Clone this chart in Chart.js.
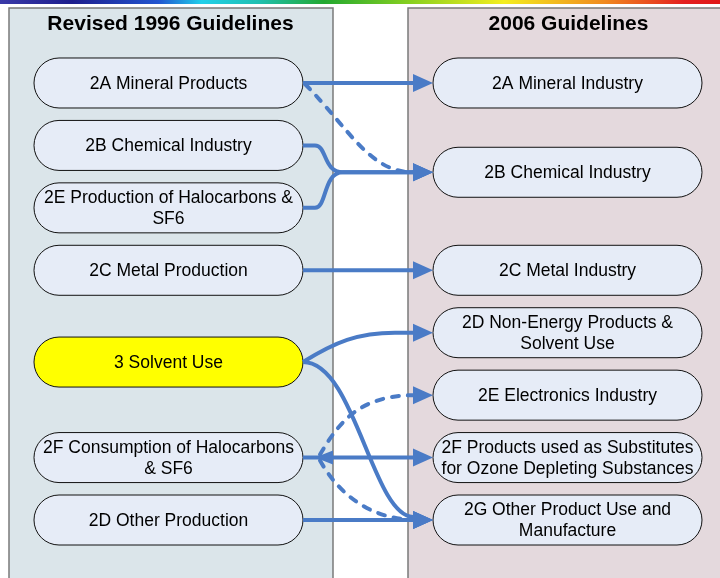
<!DOCTYPE html>
<html><head><meta charset="utf-8">
<script src="https://cdn.jsdelivr.net/npm/chart.js@4/dist/chart.umd.min.js"></script>
<style>html,body{margin:0;padding:0;background:#fff;overflow:hidden}</style>
</head><body>
<canvas id="c" width="720" height="578"></canvas>
<script>
// ---- data ----
const leftTitle = "Revised 1996 Guidelines";
const rightTitle = "2006 Guidelines";
const leftLabels = ["2A Mineral Products", "2B Chemical Industry", "2E Production of Halocarbons &\nSF6", "2C Metal Production", "3 Solvent Use", "2F Consumption of Halocarbons\n& SF6", "2D Other Production"];
const leftRows = [0, 1, 2, 3, 4.47, 6, 7];
const leftHighlight = [false, false, false, false, true, false, false];
const rightLabels = ["2A Mineral Industry", "2B Chemical Industry", "2C Metal Industry", "2D Non-Energy Products &\nSolvent Use", "2E Electronics Industry", "2F Products used as Substitutes\nfor Ozone Depleting Substances", "2G Other Product Use and\nManufacture"];
const rightRows = [0, 1.43, 3, 4, 5, 6, 7];
const linkFrom = [0, 0, 1, 2, 3, 4, 4, 5, 5, 5, 6];
const linkTo   = [0, 1, 1, 1, 2, 3, 6, 5, 4, 6, 6];
const linkKind = ['solid', 'dashed', 'solid', 'solid', 'solid', 'solid', 'solid', 'both', 'dashed', 'dashed', 'solid'];

// ---- styles / layout ----
const ARROW = '#4a7bc6';
const BOX_HALF_W = 134.5, BOX_HALF_H = 25;
const FONT = 'Arial, "Liberation Sans", sans-serif';
// curve geometry per link (offsets in px: b0,c1 relative to (leftEdge,y1); c2,b3 relative to (leftEdge,y2))
const linkShape = [
  null,
  {b0:[2,1], c1:[47,47], c2:[67,0], b3:[110,0]},
  {pre:12, b0:[12,0], c1:[24,0], c2:[20,0], b3:[40,0]},
  {pre:12, b0:[12,0], c1:[24,0], c2:[20,0], b3:[40,0]},
  null,
  {b0:[0,0], c1:[32,-20], c2:[55,0], b3:[92,0]},
  {b0:[0,0], c1:[52,0], c2:[69,-5], b3:[110,-3]},
  null,
  {b0:[17,-3], c1:[37,-37], c2:[57,1], b3:[110,0]},
  {b0:[17,3], c1:[37,38], c2:[67,-2], b3:[110,0]},
  null
];

function box(ctx, cx, cy, label, fill) {
  ctx.save();
  ctx.beginPath();
  ctx.roundRect(cx - BOX_HALF_W, cy - BOX_HALF_H, BOX_HALF_W * 2, BOX_HALF_H * 2, BOX_HALF_H);
  ctx.fillStyle = fill;
  ctx.fill();
  ctx.lineWidth = 1;
  ctx.strokeStyle = '#111';
  ctx.stroke();
  ctx.fillStyle = '#000';
  ctx.font = '17.5px ' + FONT;
  ctx.textAlign = 'center';
  ctx.textBaseline = 'middle';
  const lines = label.split('\n');
  const lh = 21;
  lines.forEach((t, i) => ctx.fillText(t, cx, cy + 1 + (i - (lines.length - 1) / 2) * lh));
  ctx.restore();
}

function head(ctx, tx, ty, dx, dy, len, hw) {
  const m = Math.hypot(dx, dy); dx /= m; dy /= m;
  const bx = tx - dx * len, by = ty - dy * len;
  ctx.beginPath();
  ctx.moveTo(tx, ty);
  ctx.lineTo(bx - dy * hw, by + dx * hw);
  ctx.lineTo(bx + dy * hw, by - dx * hw);
  ctx.closePath();
  ctx.fillStyle = ARROW;
  ctx.fill();
}

const diagram = {
  id: 'diagram',
  beforeDatasetsDraw(chart) {
    const ctx = chart.ctx;
    const L = chart.getDatasetMeta(0).data, R = chart.getDatasetMeta(1).data;
    const xl = L[0].x, xr = R[0].x;
    ctx.save();
    // rainbow bar
    const g = ctx.createLinearGradient(0, 0, 720, 0);
    g.addColorStop(0, '#3a3aa8'); g.addColorStop(0.1, '#1e1e8c'); g.addColorStop(0.22, '#2255d0');
    g.addColorStop(0.28, '#22d0ea'); g.addColorStop(0.36, '#20c0b0'); g.addColorStop(0.45, '#22a830');
    g.addColorStop(0.57, '#88d020'); g.addColorStop(0.7, '#f4ee20'); g.addColorStop(0.84, '#f08a20');
    g.addColorStop(0.95, '#e42020'); g.addColorStop(1, '#e01818');
    ctx.fillStyle = g;
    ctx.fillRect(0, 0, 720, 4);
    // panels
    ctx.lineWidth = 1.5; ctx.strokeStyle = '#7a7a7a';
    ctx.fillStyle = '#dbe5ea';
    ctx.fillRect(xl - 159.5, 8, 324, 600);
    ctx.strokeRect(xl - 159.5, 8, 324, 600);
    ctx.fillStyle = '#e4d9dd';
    ctx.fillRect(xr - 159.5, 8, 340, 600);
    ctx.strokeRect(xr - 159.5, 8, 340, 600);
    // titles
    ctx.fillStyle = '#000';
    ctx.font = 'bold 21px ' + FONT;
    ctx.textAlign = 'center'; ctx.textBaseline = 'middle';
    ctx.fillText(leftTitle, xl + 2, 24);
    ctx.fillText(rightTitle, xr + 1, 24);
    // boxes
    L.forEach((p, i) => box(ctx, p.x, p.y, leftLabels[i], leftHighlight[i] ? '#ffff00' : '#e6ecf7'));
    R.forEach((p, i) => box(ctx, p.x, p.y, rightLabels[i], '#e6ecf7'));
    ctx.restore();
  },
  afterDatasetsDraw(chart) {
    const ctx = chart.ctx;
    const L = chart.getDatasetMeta(0).data, R = chart.getDatasetMeta(1).data;
    ctx.save();
    ctx.strokeStyle = ARROW;
    ctx.lineWidth = 4;
    linkFrom.forEach((f, k) => {
      const a = L[f], b = R[linkTo[k]];
      const lx = a.x + BOX_HALF_W, rx = b.x - BOX_HALF_W;
      const y1 = a.y, y2 = b.y;
      const kind = linkKind[k];
      const s = linkShape[k];
      ctx.setLineDash(kind === 'dashed' ? [7, 9] : []);
      ctx.lineCap = kind === 'dashed' ? 'round' : 'butt';
      ctx.beginPath();
      let dx = 1, dy = 0;
      if (!s) {
        ctx.moveTo(lx, y1);
        ctx.lineTo(rx - 19, y2);
      } else {
        const b0 = [lx + s.b0[0], y1 + s.b0[1]];
        if (s.pre) { ctx.moveTo(lx, y1); ctx.lineTo(b0[0], b0[1]); } else ctx.moveTo(b0[0], b0[1]);
        const c1 = [lx + s.c1[0], y1 + s.c1[1]];
        const c2 = [lx + s.c2[0], y2 + s.c2[1]];
        const b3 = [lx + s.b3[0], y2 + s.b3[1]];
        ctx.bezierCurveTo(c1[0], c1[1], c2[0], c2[1], b3[0], b3[1]);
        if (b3[0] < rx - 20) ctx.lineTo(rx - 19, y2);
        else { dx = rx - b3[0]; dy = y2 - b3[1]; }
      }
      ctx.stroke();
      ctx.setLineDash([]);
      head(ctx, rx, y2, dx, dy, 20, 9);
      if (kind === 'both') head(ctx, lx + 12, y1, -1, 0, 18, 7);
    });
    ctx.restore();
  }
};

new Chart(document.getElementById('c'), {
  type: 'scatter',
  data: {
    datasets: [
      { data: leftRows.map(r => ({x: 0, y: r})), pointRadius: 0 },
      { data: rightRows.map(r => ({x: 1, y: r})), pointRadius: 0 }
    ]
  },
  options: {
    responsive: false,
    animation: false,
    devicePixelRatio: 1,
    layout: { padding: 0 },
    events: [],
    scales: {
      x: { type: 'linear', display: false, min: -0.4223, max: 1.3822 },
      y: { type: 'linear', display: false, reverse: true, min: -1.3295, max: 7.929 }
    },
    plugins: { legend: { display: false }, tooltip: { enabled: false } }
  },
  plugins: [diagram]
});
</script>
</body></html>
